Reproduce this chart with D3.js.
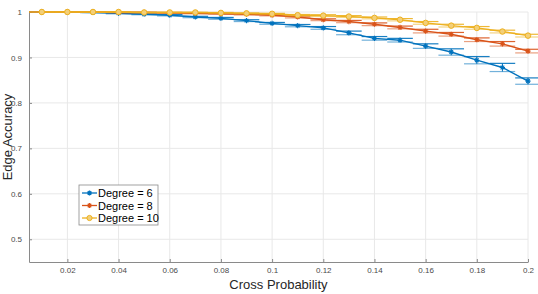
<!DOCTYPE html>
<html>
<head>
<meta charset="utf-8">
<script src="https://cdn.jsdelivr.net/npm/d3@7"></script>
<style>
  body { margin: 0; background: #fff; }
  svg { display: block; font-family: "Liberation Sans", Arial, sans-serif; }
</style>
</head>
<body>
<div id="wrapper"></div>
<script>
// data
const crossProb = [0.01, 0.02, 0.03, 0.04, 0.05, 0.06, 0.07, 0.08, 0.09, 0.10,
                   0.11, 0.12, 0.13, 0.14, 0.15, 0.16, 0.17, 0.18, 0.19, 0.20]
const degree6 = [1.0, 1.0, 0.999, 0.997, 0.995, 0.993, 0.989, 0.986, 0.981, 0.975,
                 0.970, 0.965, 0.954, 0.942, 0.938, 0.925, 0.912, 0.894, 0.878, 0.848]
const degree6Err = [0, 0, 0.0005, 0.001, 0.001, 0.0015, 0.0015, 0.002, 0.002, 0.002,
                    0.0025, 0.003, 0.004, 0.004, 0.004, 0.005, 0.007, 0.008, 0.009, 0.007]
const degree8 = [1.0, 1.0, 1.0, 0.999, 0.999, 0.998, 0.997, 0.996, 0.995, 0.993,
                 0.989, 0.983, 0.979, 0.973, 0.966, 0.958, 0.951, 0.939, 0.930, 0.914]
const degree8Err = [0, 0, 0, 0.0005, 0.0005, 0.001, 0.001, 0.001, 0.0015, 0.0015,
                    0.002, 0.002, 0.0025, 0.003, 0.003, 0.004, 0.004, 0.004, 0.005, 0.004]
const degree10 = [1.0, 1.0, 1.0, 1.0, 0.999, 0.999, 0.999, 0.998, 0.997, 0.996,
                  0.993, 0.992, 0.990, 0.987, 0.983, 0.976, 0.970, 0.965, 0.957, 0.948]
const degree10Err = [0, 0, 0, 0, 0.0005, 0.0005, 0.0005, 0.001, 0.001, 0.001,
                     0.0015, 0.002, 0.002, 0.002, 0.0025, 0.003, 0.003, 0.003, 0.003, 0.003]
const seriesNames = ["Degree = 6", "Degree = 8", "Degree = 10"]
const xTicks = [0.02, 0.04, 0.06, 0.08, 0.1, 0.12, 0.14, 0.16, 0.18, 0.2]
const yTicks = [0.5, 0.6, 0.7, 0.8, 0.9, 1]

const series = [
    { name: seriesNames[0], values: degree6, err: degree6Err, color: "#0072BD", marker: "star" },
    { name: seriesNames[1], values: degree8, err: degree8Err, color: "#D95319", marker: "star" },
    { name: seriesNames[2], values: degree10, err: degree10Err, color: "#EDB120", marker: "circle" },
]

const dimensions = {
    width: 538,
    height: 294,
    margin: { top: 12, right: 10, bottom: 32, left: 29 },
}
dimensions.boundedWidth = dimensions.width - dimensions.margin.left - dimensions.margin.right
dimensions.boundedHeight = dimensions.height - dimensions.margin.top - dimensions.margin.bottom

const svg = d3.select("#wrapper")
    .append("svg")
    .attr("width", dimensions.width)
    .attr("height", dimensions.height)

const bounds = svg.append("g")
    .attr("transform", `translate(${dimensions.margin.left},${dimensions.margin.top})`)

const xScale = d3.scaleLinear()
    .domain([0.005, 0.2])
    .range([0, dimensions.boundedWidth])
const yScale = d3.scaleLinear()
    .domain([0.45, 1])
    .range([dimensions.boundedHeight, 0])

// grid
bounds.append("g").selectAll("line")
    .data(xTicks)
    .join("line")
    .attr("x1", d => xScale(d)).attr("x2", d => xScale(d))
    .attr("y1", 0).attr("y2", dimensions.boundedHeight)
    .attr("stroke", "#e8e8e8")
bounds.append("g").selectAll("line")
    .data(yTicks)
    .join("line")
    .attr("x1", 0).attr("x2", dimensions.boundedWidth)
    .attr("y1", d => yScale(d)).attr("y2", d => yScale(d))
    .attr("stroke", "#e8e8e8")

// axes
const xAxis = bounds.append("g")
    .attr("transform", `translate(0,${dimensions.boundedHeight})`)
    .call(d3.axisBottom(xScale).tickValues(xTicks).tickSizeInner(-3).tickSizeOuter(0)
        .tickPadding(5).tickFormat(d3.format("~g")))
const yAxis = bounds.append("g")
    .call(d3.axisLeft(yScale).tickValues(yTicks).tickSizeInner(-3).tickSizeOuter(0)
        .tickPadding(7).tickFormat(d3.format("~g")))
for (const ax of [xAxis, yAxis]) {
    ax.select(".domain").attr("stroke", "#8a8a8a")
    ax.selectAll(".tick line").attr("stroke", "#8a8a8a")
    ax.selectAll(".tick text").attr("fill", "#4a4a4a").attr("font-size", "8px")
        .attr("font-family", "Liberation Sans, Arial, sans-serif")
}

// series
const line = d3.line()
    .x((d, i) => xScale(crossProb[i]))
    .y(d => yScale(d))

const starPath = (cx, cy, r) => {
    let p = ""
    for (let k = 0; k < 4; k++) {
        const a = k * Math.PI / 4
        p += `M${cx - r * Math.cos(a)},${cy - r * Math.sin(a)}L${cx + r * Math.cos(a)},${cy + r * Math.sin(a)}`
    }
    return p
}

const capHalf = (xScale(0.02) - xScale(0.01)) / 2

series.forEach(s => {
    const g = bounds.append("g")
    // error bars
    const eb = g.append("g").selectAll("g")
        .data(s.values.map((v, i) => ({ x: crossProb[i], y: v, e: s.err[i] })))
        .join("g")
    eb.append("line")
        .attr("x1", d => xScale(d.x)).attr("x2", d => xScale(d.x))
        .attr("y1", d => yScale(d.y - d.e)).attr("y2", d => yScale(Math.min(1, d.y + d.e)))
        .attr("stroke", s.color).attr("stroke-width", 1)
    eb.append("line")
        .attr("x1", d => xScale(d.x) - capHalf).attr("x2", d => xScale(d.x) + capHalf)
        .attr("y1", d => yScale(Math.min(1, d.y + d.e))).attr("y2", d => yScale(Math.min(1, d.y + d.e)))
        .attr("stroke", s.color).attr("stroke-width", 1.2).attr("opacity", 0.9)
    eb.append("line")
        .attr("x1", d => xScale(d.x) - capHalf).attr("x2", d => xScale(d.x) + capHalf)
        .attr("y1", d => yScale(d.y - d.e)).attr("y2", d => yScale(d.y - d.e))
        .attr("stroke", s.color).attr("stroke-width", 1.2).attr("opacity", 0.55)

    g.append("path")
        .datum(s.values)
        .attr("d", line)
        .attr("fill", "none")
        .attr("stroke", s.color)
        .attr("stroke-width", 1.4)

    const pts = g.append("g").selectAll("path")
        .data(s.values)
        .join("path")
    if (s.marker === "star") {
        pts.attr("d", (d, i) => starPath(xScale(crossProb[i]), yScale(d), 2.6))
            .attr("stroke", s.color).attr("stroke-width", 1.1).attr("fill", "none")
    } else {
        pts.attr("d", (d, i) => d3.symbol(d3.symbolCircle, 24)())
            .attr("transform", (d, i) => `translate(${xScale(crossProb[i])},${yScale(d)})`)
            .attr("stroke", s.color).attr("stroke-width", 1).attr("fill", "#f3cf78")
    }
})

// labels
svg.append("text")
    .attr("x", dimensions.margin.left + dimensions.boundedWidth / 2)
    .attr("y", 289)
    .attr("text-anchor", "middle")
    .attr("font-size", "13px")
    .attr("fill", "#262626")
    .text("Cross Probability")
svg.append("text")
    .attr("transform", `translate(12,${dimensions.margin.top + dimensions.boundedHeight / 2}) rotate(-90)`)
    .attr("text-anchor", "middle")
    .attr("font-size", "13px")
    .attr("fill", "#262626")
    .text("Edge Accuracy")

// legend
const legend = svg.append("g").attr("transform", "translate(79,185)")
legend.append("rect")
    .attr("width", 79).attr("height", 40)
    .attr("fill", "#fff").attr("stroke", "#8a8a8a").attr("stroke-width", 0.8)
series.forEach((s, i) => {
    const ly = 8 + i * 12.5
    legend.append("line")
        .attr("x1", 3).attr("x2", 18).attr("y1", ly).attr("y2", ly)
        .attr("stroke", s.color).attr("stroke-width", 1.3)
    if (s.marker === "star") {
        legend.append("path").attr("d", starPath(10.5, ly, 2.5))
            .attr("stroke", s.color).attr("stroke-width", 1.2)
    } else {
        legend.append("circle").attr("cx", 10.5).attr("cy", ly).attr("r", 2.6)
            .attr("stroke", s.color).attr("fill", "#f3cf78")
    }
    legend.append("text")
        .attr("x", 19).attr("y", ly + 4)
        .attr("font-size", "11px")
        .attr("fill", "#000")
        .text(s.name)
})
</script>
</body>
</html>
